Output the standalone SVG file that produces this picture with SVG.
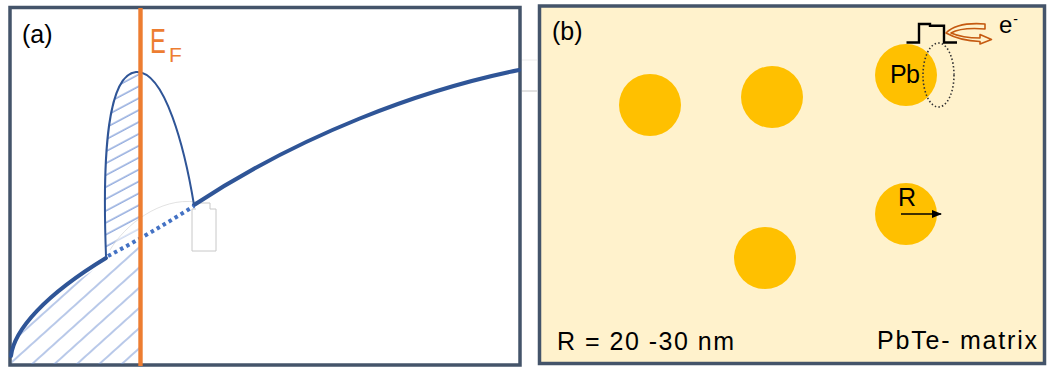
<svg xmlns="http://www.w3.org/2000/svg" width="1049" height="367" viewBox="0 0 1049 367">
  <style>
    .frame { fill: none; stroke: #44546A; stroke-width: 3.5; }
    .lbl { font-family: "Liberation Sans", Arial, sans-serif; fill: #000; }
    .curve { fill: none; stroke: #2F5597; stroke-linecap: round; stroke-linejoin: round; }
    .dot { fill: #FFC000; }
    .ef { font-family: "Liberation Sans", Arial, sans-serif; fill: #ED7D31; }
  </style>
  <defs>
    <pattern id="hatchLow" patternUnits="userSpaceOnUse" width="40" height="15" patternTransform="rotate(-42)">
      <line x1="0" y1="7" x2="40" y2="7" stroke="#7393D4" stroke-width="1.2"/>
    </pattern>
    <pattern id="hatchUp" patternUnits="userSpaceOnUse" width="40" height="10.5" patternTransform="rotate(-28)">
      <line x1="0" y1="5" x2="40" y2="5" stroke="#7393D4" stroke-width="1.2"/>
    </pattern>
    <marker id="arrowR" markerWidth="10" markerHeight="8" refX="9" refY="4" orient="auto" markerUnits="userSpaceOnUse">
      <path d="M0,0 L10,4 L0,8 Z" fill="#000"/>
    </marker>
  </defs>

  <rect width="1049" height="367" fill="#FFFFFF"/>

  <!-- Panel (a) -->
  <g id="panel-a">
    <rect class="frame" x="10" y="7.5" width="510" height="357.5" stroke-width="3.8"/>
    <!-- hatched regions -->
    <path d="M106,256 C102,150 108,75 136,72 L140.5,73 L140.5,238 L107,256 Z" fill="url(#hatchUp)"/>
    <path d="M12,356 C15,333 46,299 106,262 L108,258 Q124,249 140.5,240 L140.5,364 L12,364 Z" fill="url(#hatchLow)"/>
    <!-- faint white overlay arc -->
    <path d="M110,250 C125,225 160,197 196,202 L194,206 Q150,233 107,257 Z" fill="#FFFFFF" fill-opacity="0.55"/>
    <path d="M110,250 C125,225 160,197 196,202" fill="none" stroke="#DADADA" stroke-width="0.8"/>
    <!-- small gray callout outline -->
    <path d="M196,203 H210 V209 H216 V251 H192 V209 H196" fill="none" stroke="#C8C8C8" stroke-width="1"/>
    <!-- curves -->
    <path class="curve" d="M11,356 C14,330 45,295 106,258" stroke-width="4"/>
    <path class="curve" d="M194,205 C300,135 420,90 519,70" stroke-width="4"/>
    <path class="curve" d="M106,256 C102,150 108,75 136,72 C165,70 185,150 194,205" stroke-width="2"/>
    <path d="M108,256 Q150,234 194,206" fill="none" stroke="#4472C4" stroke-width="4" stroke-dasharray="3.5 3.5"/>
    <!-- Fermi level -->
    <line x1="140.5" y1="8" x2="140.5" y2="366" stroke="#ED7D31" stroke-width="4.4"/>
    <text class="ef" transform="translate(150,53) scale(0.68,1)" font-size="35">E</text>
    <text class="ef" x="169" y="62" font-size="21">F</text>
    <text class="lbl" x="22" y="43" font-size="25">(a)</text>
  </g>

  <!-- separator ticks between panels -->
  <g id="gaps">
    <line x1="522" y1="60" x2="537" y2="60" stroke="#ECECEC" stroke-width="1"/>
    <line x1="522" y1="91" x2="537" y2="91" stroke="#C4C4C4" stroke-width="1"/>
  </g>

  <!-- Panel (b) -->
  <g id="panel-b">
    <rect x="539.5" y="6" width="505" height="357.5" fill="#FFF2CC" stroke="#44546A" stroke-width="3.5"/>
    <text class="lbl" x="552" y="40" font-size="25">(b)</text>
  </g>

  <g id="particle-1"><circle class="dot" cx="650" cy="105" r="31"/></g>
  <g id="particle-2"><circle class="dot" cx="772" cy="97" r="31"/></g>
  <g id="particle-3"><circle class="dot" cx="765" cy="258" r="31"/></g>

  <g id="particle-pb">
    <circle class="dot" cx="906" cy="75" r="31"/>
    <text class="lbl" x="890" y="83" font-size="25" textLength="30">Pb</text>
    <ellipse cx="938.5" cy="75" rx="15.5" ry="32" fill="none" stroke="#333" stroke-width="1.6" stroke-dasharray="1.5 2.2"/>
    <path d="M906.5,42.5 H919 V24 H930 V25.7 H944 V42.5 H957" fill="none" stroke="#000" stroke-width="2.4"/>
    <path d="M946,33 C955,24 972,23 985,24 L985,29 C972,28 958,29 951,33 C960,37 972,38 980,38 L980,34.5 L991.5,39.5 L980,44 L980,41.5 C968,41 955,38 946,33 Z" fill="#FFF2CC" stroke="#C55A11" stroke-width="1.6" stroke-linejoin="round"/>
    <text class="lbl" x="999" y="33" font-size="24">e<tspan dx="1" dy="-9" font-size="14">-</tspan></text>
  </g>

  <g id="particle-r">
    <circle class="dot" cx="906" cy="214" r="31"/>
    <text class="lbl" x="898" y="206" font-size="25">R</text>
  </g>

  <g id="connectors">
    <line x1="901" y1="214" x2="941" y2="214" stroke="#000" stroke-width="1.3" marker-end="url(#arrowR)"/>
  </g>

  <g id="captions">
    <text class="lbl" x="557" y="350" font-size="25" textLength="177" lengthAdjust="spacing">R = 20 -30 nm</text>
    <text class="lbl" x="877" y="349" font-size="25" textLength="160" lengthAdjust="spacing">PbTe- matrix</text>
  </g>
</svg>
